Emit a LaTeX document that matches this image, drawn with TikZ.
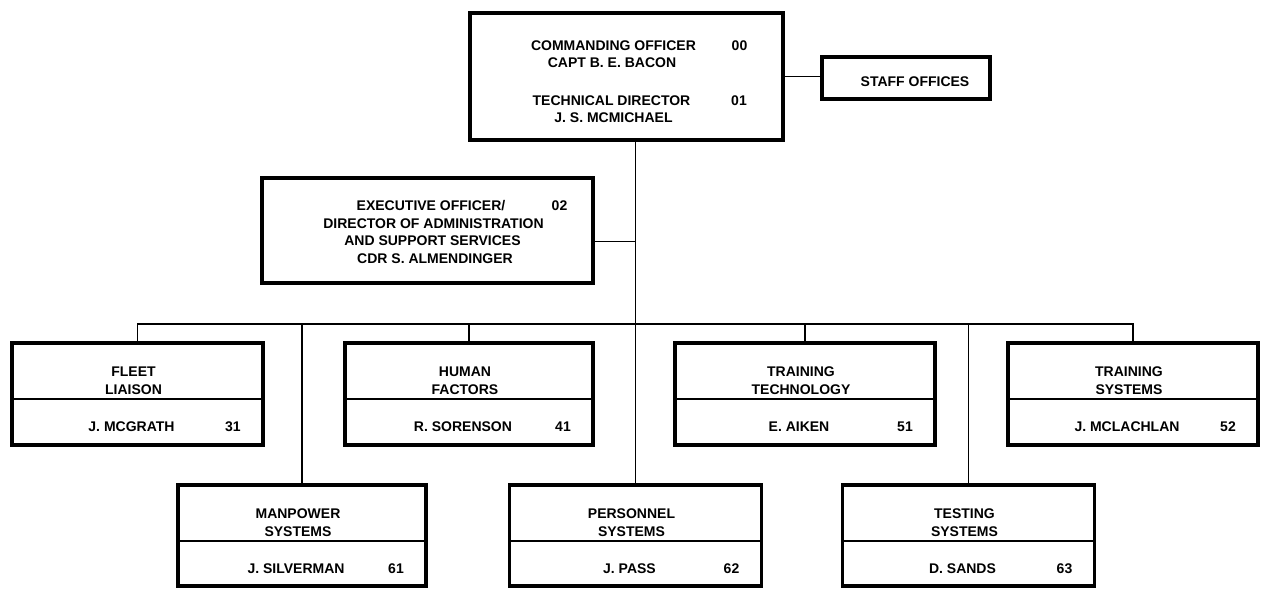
\documentclass[tikz,border=0pt]{standalone}
\usepackage{fontspec}
\setmainfont{Liberation Sans}
\newcommand\orgunit[9]{%
  % #1 name, #2 center x, #3 top y, #4 width, #5 line1, #6 line2, #7 person, #8 number, #9 height
  \node[unitbox, minimum width=#4pt, minimum height=#9pt] (#1) at (#2,{#3+#9/2}) {};
  \coordinate (#1dl) at ({#2-#4/2},{#3+56});
  \coordinate (#1dr) at ({#2+#4/2},{#3+56});
  \draw[divider] (#1dl) -- (#1dr);
  \node[lbl] (#1a) at ({#2-4},{#3+33}) {#5};
  \node[lbl] (#1b) at ({#2-4},{#3+51}) {#6};
  \node[lbl] (#1p) at ({#2-6},{#3+88}) {#7};
  \node[lbl] (#1n) at ({#2+#4/2-30},{#3+88}) {#8};
}
\begin{document}
\begin{tikzpicture}[x=1pt,y=-1pt,
  unitbox/.style={draw, line width=3.6pt, rectangle, inner sep=0pt},
  divider/.style={line width=2.4pt},
  lbl/.style={font=\bfseries\fontsize{14}{17}\selectfont, inner sep=0pt, anchor=base},
  conn/.style={line width=1.9pt}]
\useasboundingbox[fill=white] (0,0) rectangle (1267,589);

% top box
\node[draw, line width=4.8pt, rectangle, inner sep=0pt, minimum width=313pt, minimum height=127pt] (co) at (626.5,76.5) {};
\node[lbl] (coA) at (613.5,50) {COMMANDING OFFICER};
\node[lbl] (coAn) at (739.5,50) {00};
\node[lbl] (coB) at (612,67) {CAPT B. E. BACON};
\node[lbl] (coC) at (611.5,105) {TECHNICAL DIRECTOR};
\node[lbl] (coCn) at (739,105) {01};
\node[lbl] (coD) at (613.5,122) {J. S. MCMICHAEL};

% staff offices
\node[draw, line width=3.6pt, rectangle, inner sep=0pt, minimum width=168pt, minimum height=42pt] (staff) at (906,78) {};
\node[lbl] (staffT) at (915,86) {STAFF OFFICES};

% executive officer
\node[draw, line width=3.6pt, rectangle, inner sep=0pt, minimum width=331pt, minimum height=105pt] (xo) at (427.5,230.5) {};
\node[lbl] (xoA) at (431,210) {EXECUTIVE OFFICER/};
\node[lbl] (xoAn) at (559.5,210) {02};
\node[lbl] (xoB) at (433.5,228) {DIRECTOR OF ADMINISTRATION};
\node[lbl] (xoC) at (432.5,245) {AND SUPPORT SERVICES};
\node[lbl] (xoD) at (435,263) {CDR S. ALMENDINGER};

% units, top row
\orgunit{fl}{137.5}{343}{251}{FLEET}{LIAISON}{J. MCGRATH}{31}{102}
\orgunit{hf}{469}{343}{248}{HUMAN}{FACTORS}{R. SORENSON}{41}{102}
\orgunit{tt}{805}{343}{260}{TRAINING}{TECHNOLOGY}{E. AIKEN}{51}{102}
\orgunit{ts}{1133}{343}{250}{TRAINING}{SYSTEMS}{J. MCLACHLAN}{52}{102}
% units, bottom row
\orgunit{mp}{302}{485}{248}{MANPOWER}{SYSTEMS}{J. SILVERMAN}{61}{101}
\orgunit{pe}{635.5}{485}{252}{PERSONNEL}{SYSTEMS}{J. PASS}{62}{101}
\orgunit{te}{968.5}{485}{252}{TESTING}{SYSTEMS}{D. SANDS}{63}{101}

% connectors
\draw[conn] (co.east) -- (co.east -| staff.west);
\draw[conn] (co.south -| pe.north) -- (pe.north);
\coordinate (xc) at ([yshift=-11pt]xo.east);
\draw[conn] (xc) -- (xc -| pe.north);
\coordinate (bus) at (0,324);
\draw[conn] (fl.north) -- (fl.north |- bus) -- (ts.north |- bus) -- (ts.north);
\foreach \n in {hf,tt,mp,te} \draw[conn] (\n.north) -- (\n.north |- bus);
\end{tikzpicture}
\end{document}
